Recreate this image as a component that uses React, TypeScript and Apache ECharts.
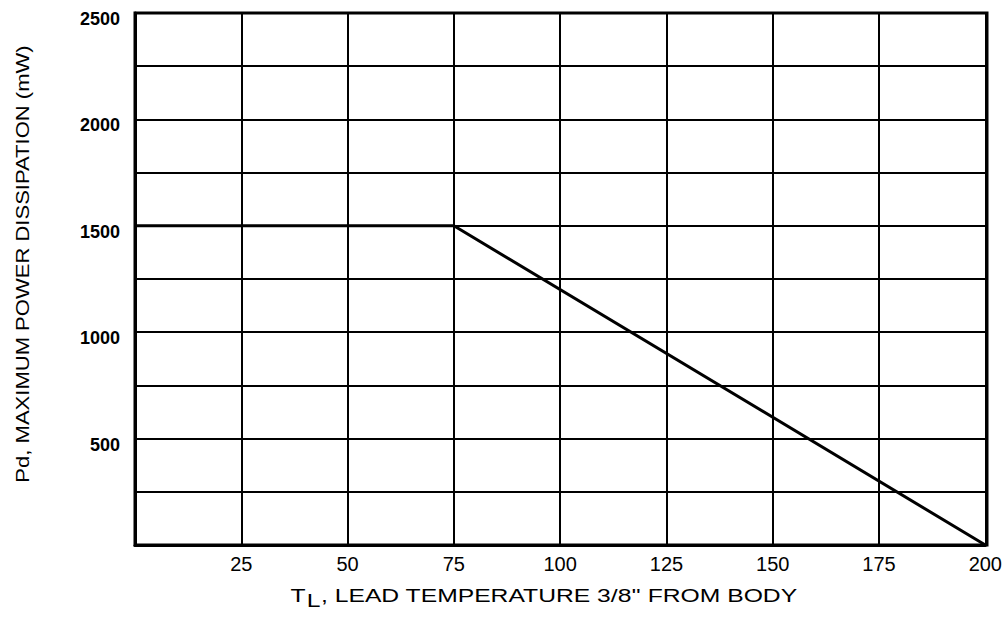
import React, { useEffect, useRef } from "react";
import * as echarts from "echarts";

const temperatures = [0, 75, 200];
const powerMw = [1500, 1500, 0];
const xTickValues = [25, 50, 75, 100, 125, 150, 175, 200];
const yTickValues = [500, 1000, 1500, 2000, 2500];
const xAxisTitleMain = ", LEAD TEMPERATURE 3/8'' FROM BODY";
const yAxisTitle = "Pd, MAXIMUM POWER DISSIPATION (mW)";

export default function App() {
  const ref = useRef<HTMLDivElement>(null);
  useEffect(() => {
    if (!ref.current) return;
    const chart = echarts.init(ref.current, undefined, { renderer: "svg" });
    const font = "Liberation Sans, Arial, sans-serif";
    chart.setOption({
      animation: false,
      backgroundColor: "#ffffff",
      grid: { left: 135, right: 18, top: 13, bottom: 72 },
      xAxis: {
        type: "value",
        min: 0,
        max: 200,
        interval: 25,
        axisLine: { show: true, onZero: false, lineStyle: { color: "#000", width: 3 } },
        axisTick: { show: false },
        splitLine: { show: true, lineStyle: { color: "#000", width: 2 } },
        axisLabel: {
          color: "#000",
          fontSize: 20,
          fontFamily: font,
          margin: 9,
          formatter: (v: number) => (xTickValues.includes(v) ? String(v) : ""),
        },
      },
      yAxis: {
        type: "value",
        min: 0,
        max: 2500,
        interval: 250,
        axisLine: { show: true, onZero: false, lineStyle: { color: "#000", width: 3 } },
        axisTick: { show: false },
        splitLine: { show: true, lineStyle: { color: "#000", width: 2 } },
        axisLabel: {
          color: "#000",
          fontSize: 18,
          fontWeight: "bold",
          fontFamily: font,
          margin: 15,
          verticalAlign: "top",
          lineHeight: 12,
          formatter: (v: number) => (yTickValues.includes(v) ? String(v) : ""),
        },
      },
      series: [
        {
          type: "line",
          data: temperatures.map((t, i) => [t, powerMw[i]]),
          symbol: "none",
          lineStyle: { color: "#000", width: 3 },
        },
      ],
      graphic: [
        {
          type: "rect",
          shape: { x: 135, y: 13, width: 852, height: 532 },
          style: { fill: "none", stroke: "#000", lineWidth: 3 },
          silent: true,
        },
        {
          type: "text",
          x: 544,
          y: 598,
          scaleX: 1.3,
          style: {
            text: "{t|T}{s|L}{t|" + xAxisTitleMain + "}",
            textAlign: "center",
            textVerticalAlign: "middle",
            rich: {
              t: { fontSize: 19, fill: "#000", fontFamily: font, verticalAlign: "top", lineHeight: 24 },
              s: { fontSize: 19, fill: "#000", fontFamily: font, verticalAlign: "bottom", padding: [12, 0, 0, 1], lineHeight: 24 },
            },
          },
          silent: true,
        },
        {
          type: "text",
          x: 22,
          y: 264,
          rotation: Math.PI / 2,
          scaleX: 1.16,
          style: {
            text: yAxisTitle,
            textAlign: "center",
            textVerticalAlign: "middle",
            fontSize: 19,
            fill: "#000",
            fontFamily: font,
          },
          silent: true,
        },
      ],
    });
    return () => chart.dispose();
  }, []);
  return <div ref={ref} style={{ width: 1005, height: 617, position: "absolute", left: 0, top: 0 }} />;
}
